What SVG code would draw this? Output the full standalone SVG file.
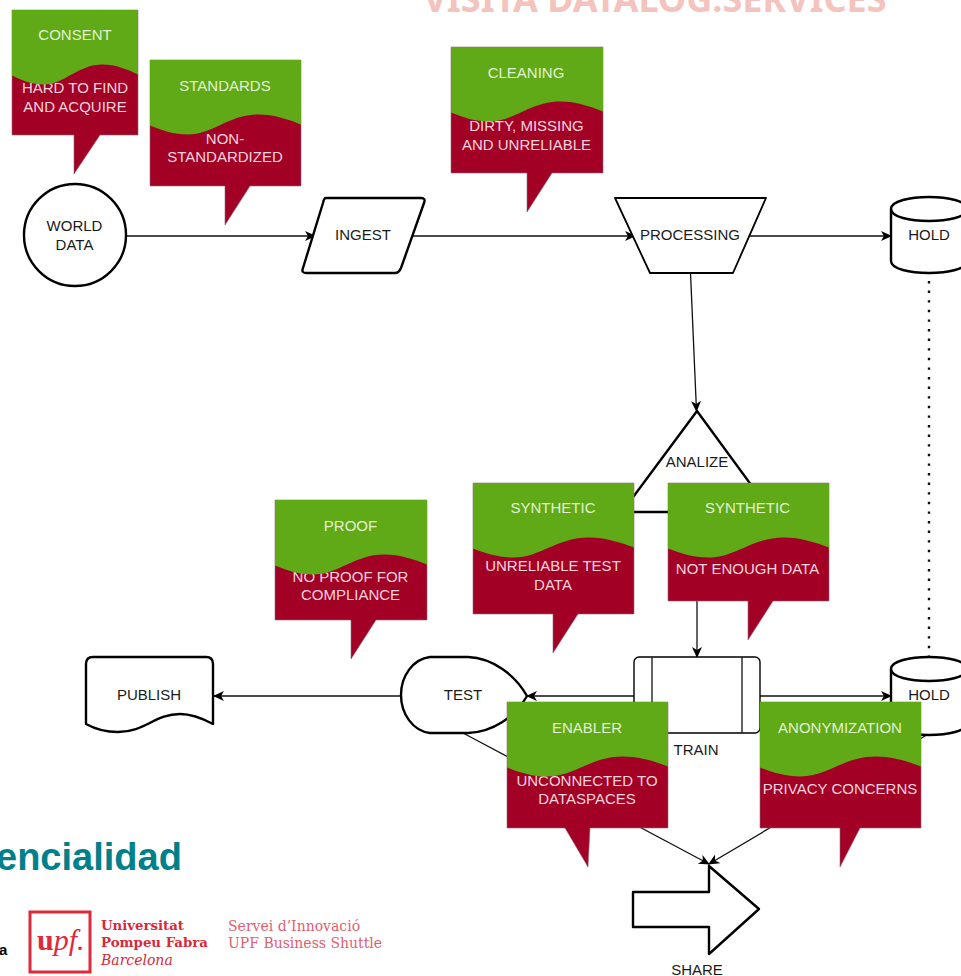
<svg xmlns="http://www.w3.org/2000/svg" xmlns:xlink="http://www.w3.org/1999/xlink" width="961" height="976" viewBox="0 0 961 976">
<style>
text{font-family:"Liberation Sans",Arial,sans-serif;font-size:15px;text-anchor:middle}
.n{fill:#fff;stroke:#000;stroke-width:2.4;stroke-linejoin:round}
.thin{stroke-width:1.4}
.c{fill:none;stroke:#111;stroke-width:1.3}
.b{fill:#a20025;stroke:#8d6a72;stroke-width:.6}
.t{fill:#1a1a1a}
.g{fill:#e2f2d2}
.r{fill:#f7d5df}
.s{font-family:"DejaVu Serif","Liberation Serif",serif;font-size:13.7px;text-anchor:start}
</style>
<defs>
<marker id="a" markerUnits="userSpaceOnUse" markerWidth="14" markerHeight="14" refX="10" refY="6" orient="auto"><path d="M0 1L11 6L0 11L3 6Z" fill="#000"/></marker>
<symbol id="w" viewBox="0 0 100 76" preserveAspectRatio="none"><path d="M0 65.500C8 70.500 16 74.500 25 74.500C42 74.500 52 54.500 72 54.500C82 54.500 92 59.500 100 64.500V0H0Z" fill="#60a917"/></symbol>
</defs>
<rect width="961" height="976" fill="#fff"/>
<text x="655" y="12" style="font-family:'Noto Sans','Open Sans',sans-serif;font-weight:700;font-size:36px;fill:#f4c3bd">VISITA DATALOG.SERVICES</text>
<g id="connectors">
<path class="c" marker-end="url(#a)" d="M126 236H315"/>
<path class="c" marker-end="url(#a)" d="M412 236H635"/>
<path class="c" marker-end="url(#a)" d="M750 236H891"/>
<path class="c" marker-end="url(#a)" d="M690.500 273L696.500 411"/>
<path class="c" style="stroke-width:2.4;stroke-dasharray:2.400 7.200" d="M929 281V657"/>
<path class="c" marker-end="url(#a)" d="M697 600V657"/>
<path class="c" marker-end="url(#a)" d="M634 696H527"/>
<path class="c" marker-end="url(#a)" d="M760 696H891"/>
<path class="c" marker-end="url(#a)" d="M400 696H214"/>
<path class="c" marker-end="url(#a)" d="M463 733L709 864"/>
<path class="c" marker-end="url(#a)" d="M930 733L709 864"/>
</g>
<g id="world-data"><circle class="n" cx="75" cy="235" r="51"/><text class="t" x="74.500" y="231">WORLD</text><text class="t" x="74.500" y="250">DATA</text></g>
<g id="ingest"><path class="n" d="M326 198H421Q426 198 424 203L401 268Q399 273 395 273H306Q301 273 303 268L323 203Q324 198 326 198Z"/><text class="t" x="363" y="240">INGEST</text></g>
<g id="processing"><path class="n" style="stroke-width:1.800" d="M615 198H766L733 273H650Z"/><text class="t" x="690" y="240">PROCESSING</text></g>
<g id="hold-1"><path class="n" d="M891 209C891 193 967 193 967 209V261C967 277 891 277 891 261Z"/><path class="n" style="fill:none" d="M891 209C891 225 967 225 967 209"/><text class="t" x="929" y="240">HOLD</text></g>
<g id="analize"><path class="n" d="M697 411L771 512H622Z"/><text class="t" x="697" y="467">ANALIZE</text></g>
<g id="train"><rect class="n thin" x="634" y="657" width="126" height="76" rx="5"/><path class="c" d="M652 657V733M742 657V733"/><text class="t" x="696" y="755">TRAIN</text></g>
<g id="test"><path class="n" d="M430 657H468C493 658 515 675 527 696C515 717 493 732 468 733H430C413 731 401 714 401 695C401 676 413 659 430 657Z"/><text class="t" x="463" y="700">TEST</text></g>
<g id="publish"><path class="n" d="M93 657H206Q213 657 213 664V724C200 717 190 714 180 714C155 714 145 732 118 732C105 732 95 729 86 724V664Q86 657 93 657Z"/><text class="t" x="149" y="700">PUBLISH</text></g>
<g id="hold-2"><path class="n" d="M891 669C891 653 967 653 967 669V723C967 739 891 739 891 723Z"/><path class="n" style="fill:none" d="M891 669C891 685 967 685 967 669"/><text class="t" x="929" y="700">HOLD</text></g>
<g id="share"><path class="n" d="M633 892H709V866L759 909L709 954V927H633Z"/><text class="t" x="697" y="975">SHARE</text></g>
<g id="consent"><path class="b" d="M12 10H138V135H100L74 174V135H12Z"/><text class="r" x="75" y="93">HARD TO FIND</text><text class="r" x="75" y="112">AND ACQUIRE</text><use xlink:href="#w" href="#w" x="12" y="10" width="126" height="76"/><text class="g" x="75" y="40">CONSENT</text></g>
<g id="standards"><path class="b" d="M150 60H301V186H250L225 225V186H150Z"/><text class="r" x="225" y="144">NON-</text><text class="r" x="225" y="162">STANDARDIZED</text><use xlink:href="#w" href="#w" x="150" y="60" width="151" height="76"/><text class="g" x="225" y="91">STANDARDS</text></g>
<g id="cleaning"><path class="b" d="M451 47H603V173H552L527 212V173H451Z"/><text class="r" x="526.500" y="131">DIRTY, MISSING</text><text class="r" x="526.500" y="150">AND UNRELIABLE</text><use xlink:href="#w" href="#w" x="451" y="47" width="152" height="76"/><text class="g" x="526" y="78">CLEANING</text></g>
<g id="proof"><path class="b" d="M275 500H427V620H376L351 659V620H275Z"/><text class="r" x="350.500" y="582">NO PROOF FOR</text><text class="r" x="350.500" y="600">COMPLIANCE</text><use xlink:href="#w" href="#w" x="275" y="500" width="152" height="76"/><text class="g" x="350.500" y="531">PROOF</text></g>
<g id="synthetic-1"><path class="b" d="M473 483H634V614H578L553 653V614H473Z"/><text class="r" x="553" y="571">UNRELIABLE TEST</text><text class="r" x="553" y="590">DATA</text><use xlink:href="#w" href="#w" x="473" y="483" width="161" height="76"/><text class="g" x="553" y="513">SYNTHETIC</text></g>
<g id="synthetic-2"><path class="b" d="M668 483H829V601H773L748 640V601H668Z"/><text class="r" x="747.500" y="574">NOT ENOUGH DATA</text><use xlink:href="#w" href="#w" x="668" y="483" width="161" height="76"/><text class="g" x="747.500" y="513">SYNTHETIC</text></g>
<g id="enabler"><path class="b" d="M507 702H668V828H590L588 867L565 828H507Z"/><text class="r" x="587" y="786">UNCONNECTED TO</text><text class="r" x="587" y="804">DATASPACES</text><use xlink:href="#w" href="#w" x="507" y="702" width="161" height="76"/><text class="g" x="587" y="733">ENABLER</text></g>
<g id="anonymization"><path class="b" d="M760 702H921V828H860L840 867V828H760Z"/><text class="r" x="840" y="794">PRIVACY CONCERNS</text><use xlink:href="#w" href="#w" x="760" y="702" width="161" height="76"/><text class="g" x="840" y="733">ANONYMIZATION</text></g>
<text x="-4" y="870" style="text-anchor:start;font-weight:700;font-size:38px;fill:#00808a">encialidad</text>
<text x="-1" y="955" style="text-anchor:start;font-weight:700;font-size:15px;fill:#000">a</text>
<rect x="30" y="912" width="60" height="60" fill="none" stroke="#df2a3c" stroke-width="3"/>
<text class="s" x="37" y="950" style="font-family:'Liberation Serif',serif;font-size:30px;fill:#df2a3c"><tspan font-weight="700">u</tspan><tspan font-style="italic">pf.</tspan></text>
<text class="s" x="101" y="930" style="font-size:13.3px;font-weight:700;fill:#d8283a">Universitat</text>
<text class="s" x="101" y="947" style="font-size:13.3px;font-weight:700;fill:#d8283a">Pompeu Fabra</text>
<text class="s" x="101" y="965" style="font-size:14px;font-style:italic;fill:#d8283a">Barcelona</text>
<text class="s" x="228" y="931" style="font-size:14px;fill:#e2606e">Servei d’Innovació</text>
<text class="s" x="228" y="948" style="font-size:14px;fill:#e2606e">UPF Business Shuttle</text>
</svg>
